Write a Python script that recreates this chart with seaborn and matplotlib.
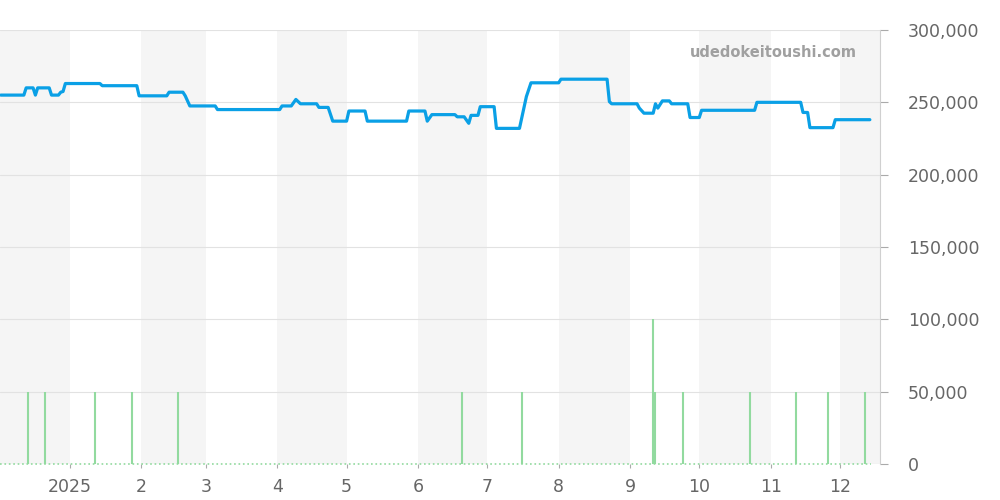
import pandas as pd
import matplotlib
matplotlib.use("Agg")
import matplotlib.pyplot as plt
from matplotlib.ticker import FuncFormatter
import seaborn as sns

# price history (JPY)
price_dates = [
    "2024-12-02", "2024-12-12", "2024-12-13", "2024-12-16", "2024-12-17", "2024-12-18",
    "2024-12-23", "2024-12-24", "2024-12-27", "2024-12-28", "2024-12-29", "2024-12-30",
    "2025-01-14", "2025-01-15", "2025-01-30", "2025-01-31", "2025-02-12", "2025-02-13",
    "2025-02-19", "2025-02-20", "2025-02-22", "2025-03-05", "2025-03-06", "2025-04-02",
    "2025-04-03", "2025-04-07", "2025-04-09", "2025-04-11", "2025-04-18", "2025-04-19",
    "2025-04-23", "2025-04-25", "2025-05-01", "2025-05-02", "2025-05-09", "2025-05-10",
    "2025-05-27", "2025-05-28", "2025-06-04", "2025-06-05", "2025-06-07", "2025-06-17",
    "2025-06-18", "2025-06-21", "2025-06-23", "2025-06-24", "2025-06-27", "2025-06-28",
    "2025-07-04", "2025-07-05", "2025-07-15", "2025-07-18", "2025-07-20", "2025-08-01",
    "2025-08-02", "2025-08-22", "2025-08-23", "2025-08-24", "2025-09-04", "2025-09-05",
    "2025-09-07", "2025-09-11", "2025-09-12", "2025-09-13", "2025-09-15", "2025-09-18",
    "2025-09-19", "2025-09-26", "2025-09-27", "2025-10-01", "2025-10-02", "2025-10-25",
    "2025-10-26", "2025-11-14", "2025-11-15", "2025-11-17", "2025-11-18", "2025-11-28",
    "2025-11-29", "2025-12-14",
]
price_values = [
    255000, 255000, 260000, 260000, 255000, 260000,
    260000, 255000, 255000, 257000, 257500, 263000,
    263000, 261500, 261500, 254500, 254500, 257000,
    257000, 254500, 247500, 247500, 245000, 245000,
    247500, 247500, 252000, 249000, 249000, 246500,
    246500, 237000, 237000, 244000, 244000, 237000,
    237000, 244000, 244000, 237000, 241500, 241500,
    240000, 240000, 235500, 241000, 241000, 247000,
    247000, 232000, 232000, 254000, 263500, 263500,
    266000, 266000, 250500, 249000, 249000, 246000,
    242500, 242500, 249000, 246000, 251000, 251000,
    249000, 249000, 239500, 239500, 244500, 244500,
    250000, 250000, 243000, 243000, 232500, 232500,
    238000, 238000,
]

# listing counts (green spikes)
volume_dates = [
    "2024-12-14", "2024-12-21", "2025-01-12", "2025-01-28", "2025-02-17", "2025-06-20",
    "2025-07-16", "2025-09-11", "2025-09-12", "2025-09-24", "2025-10-23", "2025-11-12",
    "2025-11-26", "2025-12-12",
]
volume_values = [
    50000, 50000, 50000, 50000, 50000, 50000,
    50000, 100000, 50000, 50000, 50000, 50000,
    50000, 50000,
]

month_ticks = ["2025-01-01", "2025-02-01", "2025-03-01", "2025-04-01", "2025-05-01", "2025-06-01",
               "2025-07-01", "2025-08-01", "2025-09-01", "2025-10-01", "2025-11-01", "2025-12-01"]
month_labels = ["2025", "2", "3", "4", "5", "6", "7", "8", "9", "10", "11", "12"]
shaded_months = ["2024-12", "2025-02", "2025-04", "2025-06", "2025-08", "2025-10", "2025-12"]

blue = "#0aa0e6"
green = "#92da9f"
grey = "#666666"

sns.set_style("white")
plt.rcParams["font.family"] = ["DejaVu Sans"]

fig = plt.figure(figsize=(10, 5), dpi=100)
ax = fig.add_axes([0, 0.072, 0.88, 0.868])

price = pd.DataFrame({"date": pd.to_datetime(price_dates), "price": price_values})
vol = pd.DataFrame({"date": pd.to_datetime(volume_dates), "count": volume_values})

x0 = pd.Timestamp("2024-12-01") + pd.Timedelta(days=0.65)
x1 = pd.Timestamp("2024-12-01") + pd.Timedelta(days=382.4)

# alternate month bands
for m in shaded_months:
    start = pd.Timestamp(m + "-01")
    end = start + pd.offsets.MonthBegin(1)
    ax.axvspan(start, end, color="#f5f5f5", zorder=0, lw=0)

ax.axhline(0, xmax=0.99, color=green, ls=":", lw=1.2, zorder=1, clip_on=False)
ax.vlines(vol["date"], 0, vol["count"], color=green, lw=1.5, zorder=2)
sns.lineplot(data=price, x="date", y="price", ax=ax, color=blue, lw=2.3, zorder=3)

ax.set_xlim(x0, x1)
ax.set_ylim(0, 300000)
ax.set_yticks(range(0, 300001, 50000))
ax.yaxis.set_major_formatter(FuncFormatter(lambda v, p: f"{int(v):,}"))
ax.yaxis.tick_right()
ax.set_xticks(pd.to_datetime(month_ticks))
ax.set_xticklabels(month_labels)
ax.set_xlabel("")
ax.set_ylabel("")

ax.set_axisbelow(True)
ax.grid(axis="y", color="#e2e2e2", lw=0.8)
ax.grid(axis="x", visible=False)
for s in ["top", "left", "bottom"]:
    ax.spines[s].set_visible(False)
ax.spines["right"].set_color("#d0d0d0")
ax.spines["right"].set_linewidth(0.8)

ax.tick_params(axis="y", right=True, length=6, width=0.8, color="#aaaaaa",
               pad=14, labelsize=12.5, labelcolor=grey)
ax.tick_params(axis="x", bottom=True, length=3, width=0.8, color="#aaaaaa",
               pad=7, labelsize=12.5, labelcolor=grey)

ax.text(0.974, 0.948, "udedokeitoushi.com", transform=ax.transAxes, ha="right", va="center",
        fontsize=10.5, fontweight="bold", color="#a0a0a0")

fig.savefig("out.png", dpi=100)
